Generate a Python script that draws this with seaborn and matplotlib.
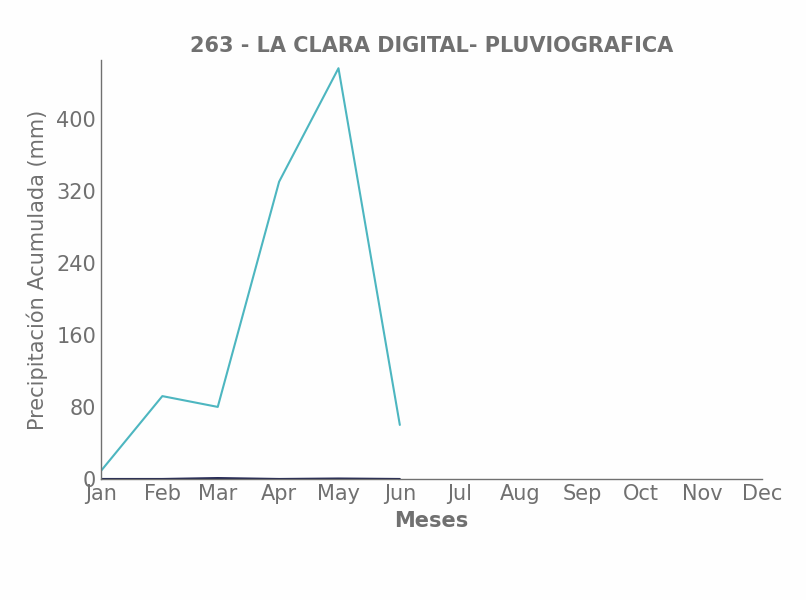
import matplotlib
matplotlib.use("Agg")
import matplotlib.dates as mdates
import matplotlib.pyplot as plt
import numpy as np
import pandas as pd
import seaborn as sns

# Monthly accumulated precipitation (mm)
meses = pd.to_datetime(["2019-01-01", "2019-02-01", "2019-03-01",
                        "2019-04-01", "2019-05-01", "2019-06-01"])
precip_acum = [9, 92, 80, 330, 456, 60]
precip_baja = [0, 0, 1, 0, 0.5, 0]

titulo = "263 - LA CLARA DIGITAL- PLUVIOGRAFICA"
y_ticks = [0, 80, 160, 240, 320, 400]

GRIS = "#707070"

sns.set_style("white")
plt.rcParams["font.family"] = ["DejaVu Sans"]

fig = plt.figure(figsize=(8.06, 6.0), dpi=100)
fig.patch.set_facecolor("#fefefe")
ax = fig.add_axes([0.1253, 0.2017, 0.8201, 0.6983])
ax.set_facecolor("#fefefe")

df = pd.DataFrame({"fecha": meses, "acum": precip_acum, "baja": precip_baja})
sns.lineplot(data=df, x="fecha", y="acum", color="#4db6c0", lw=1.5, ax=ax)
sns.lineplot(data=df, x="fecha", y="baja", color="#1f2350", lw=1.5, ax=ax)

ax.set_xlim(pd.Timestamp("2019-01-01"), pd.Timestamp("2019-12-01"))
ax.set_ylim(0, max(precip_acum) * 1.02)
ax.xaxis.set_major_locator(mdates.MonthLocator())
ax.xaxis.set_major_formatter(mdates.DateFormatter("%b"))
ax.set_yticks(y_ticks)

ax.tick_params(direction="in", colors=GRIS, labelsize=15, length=5, width=1)
for s in ["top", "right"]:
    ax.spines[s].set_visible(False)
for s in ["left", "bottom"]:
    ax.spines[s].set_color(GRIS)
    ax.spines[s].set_linewidth(1)

ax.set_title(titulo, fontsize=15, fontweight="bold", color=GRIS)
ax.set_xlabel("Meses", fontsize=15, fontweight="bold", color=GRIS, labelpad=5)
ax.set_ylabel("Precipitación Acumulada (mm)", fontsize=15, color=GRIS, labelpad=6)

fig.savefig("out.png", dpi=100, facecolor=fig.get_facecolor())
